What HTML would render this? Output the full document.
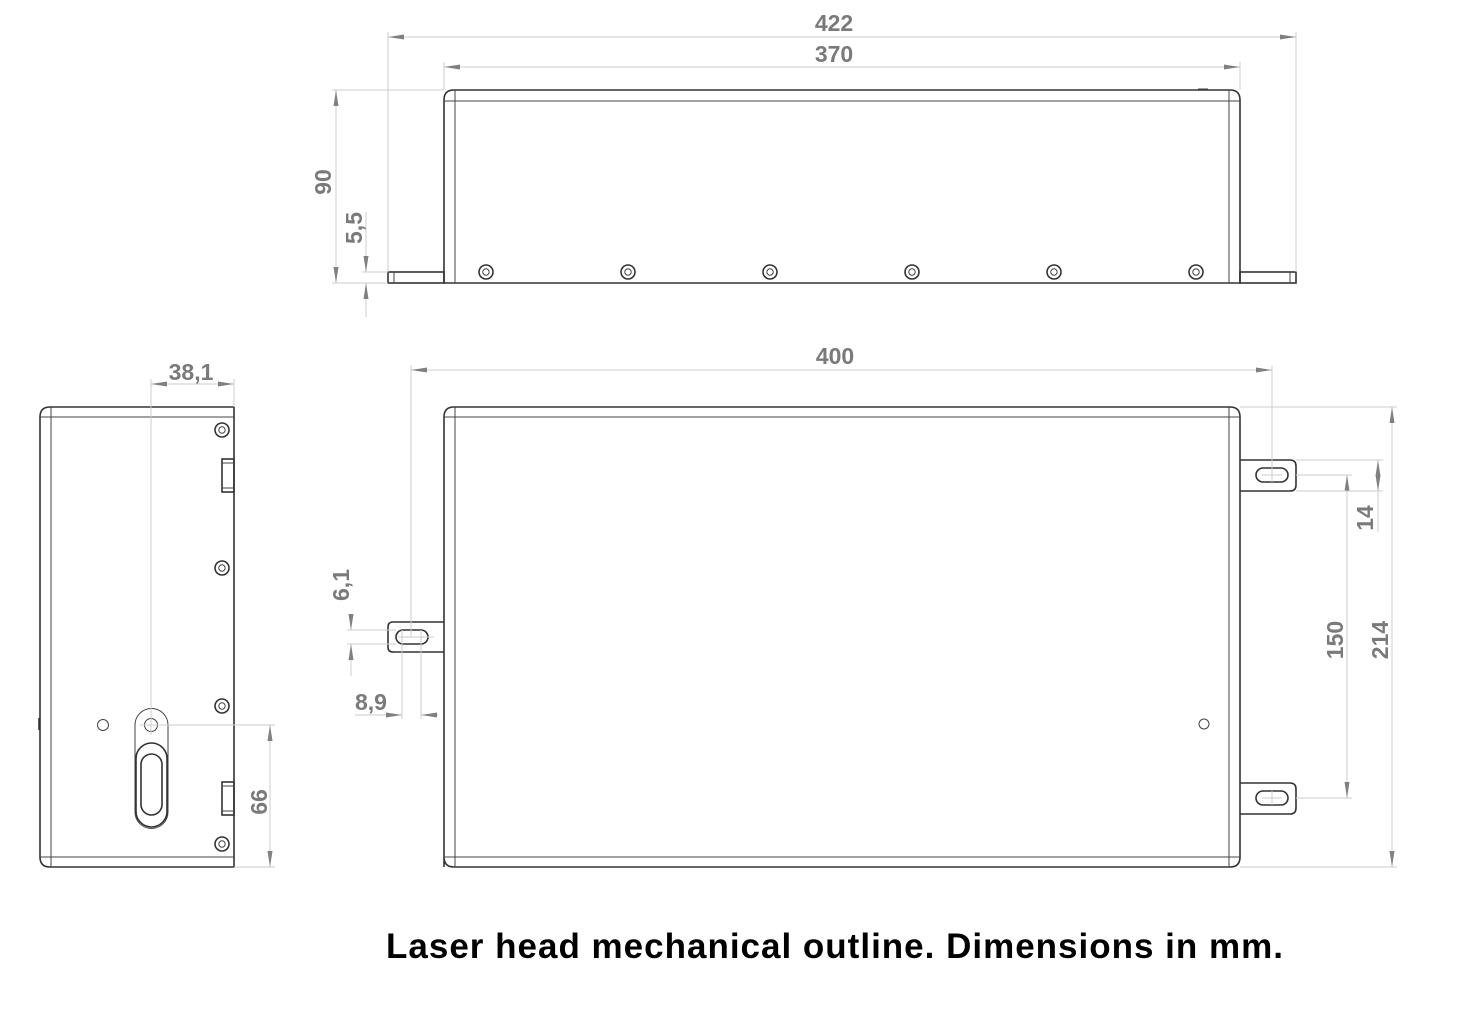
<!DOCTYPE html>
<html><head><meta charset="utf-8"><style>
body{margin:0;background:#fff;width:1460px;height:1015px;overflow:hidden}
svg{display:block}
.o{fill:none;stroke:#333;stroke-width:1.6}
.t{fill:none;stroke:#444;stroke-width:1}
.d{stroke:#ccc;stroke-width:1;fill:none}
.n{font-family:"Liberation Sans",sans-serif;font-weight:bold;font-size:23px;fill:#7a7a7a}
</style></head><body>
<svg width="1460" height="1015" viewBox="0 0 1460 1015">
<defs>
<g id="scr"><circle r="7" class="o" stroke-width="1.3"/><circle r="3.2" class="t"/></g>
<marker id="ae" markerWidth="16" markerHeight="8" refX="16" refY="4" orient="auto" markerUnits="userSpaceOnUse"><path d="M0,1.5 L16,4 L0,6.5Z" fill="#808080"/></marker>
<marker id="as" markerWidth="16" markerHeight="8" refX="0" refY="4" orient="auto" markerUnits="userSpaceOnUse"><path d="M16,1.5 L0,4 L16,6.5Z" fill="#808080"/></marker>
</defs>

<!-- TOP VIEW -->
<path class="o" d="M444,283 V100 Q444,90 454,90 H1230 Q1240,90 1240,100 V283 Z"/>
<line class="t" x1="455" y1="90" x2="455" y2="283"/>
<line class="t" x1="1229" y1="90" x2="1229" y2="283"/>
<line class="t" x1="444" y1="101" x2="1240" y2="101"/>
<rect class="o" x="388" y="272" width="56" height="11"/>
<line class="t" x1="394" y1="272" x2="394" y2="283"/>
<rect class="o" x="1240" y="272" width="56" height="11"/>
<line class="t" x1="1290" y1="272" x2="1290" y2="283"/>
<line class="t" x1="1198" y1="89" x2="1208" y2="89"/>
<use href="#scr" x="486" y="272"/><use href="#scr" x="628" y="272"/><use href="#scr" x="770" y="272"/>
<use href="#scr" x="912" y="272"/><use href="#scr" x="1054" y="272"/><use href="#scr" x="1196" y="272"/>
<line class="d" x1="388" y1="32" x2="388" y2="272"/><line class="d" x1="1296" y1="32" x2="1296" y2="272"/>
<line class="d" x1="388" y1="37" x2="1296" y2="37" marker-start="url(#as)" marker-end="url(#ae)"/>
<text class="n" x="834" y="31" text-anchor="middle">422</text>
<line class="d" x1="444" y1="62" x2="444" y2="90"/><line class="d" x1="1240" y1="62" x2="1240" y2="90"/>
<line class="d" x1="444" y1="67" x2="1240" y2="67" marker-start="url(#as)" marker-end="url(#ae)"/>
<text class="n" x="834" y="62" text-anchor="middle">370</text>
<line class="d" x1="332" y1="90" x2="444" y2="90"/><line class="d" x1="332" y1="283" x2="388" y2="283"/>
<line class="d" x1="336" y1="90" x2="336" y2="283" marker-start="url(#as)" marker-end="url(#ae)"/>
<text class="n" transform="translate(331,182) rotate(-90)" text-anchor="middle">90</text>
<line class="d" x1="362" y1="272" x2="388" y2="272"/>
<line class="d" x1="366" y1="212" x2="366" y2="272" marker-end="url(#ae)"/>
<line class="d" x1="366" y1="317" x2="366" y2="283" marker-end="url(#ae)"/>
<text class="n" transform="translate(362,228) rotate(-90)" text-anchor="middle">5,5</text>

<!-- SIDE VIEW -->
<path class="o" d="M234,407 H50 Q40,407 40,417 V857 Q40,867 50,867 H234 Z"/>
<line class="t" x1="51" y1="407" x2="51" y2="867"/>
<line class="t" x1="40" y1="417" x2="234" y2="417"/>
<line class="t" x1="40" y1="857" x2="234" y2="857"/>
<line class="o" x1="39" y1="718" x2="39" y2="730" stroke-width="2"/>
<use href="#scr" x="222" y="430"/><use href="#scr" x="222" y="568"/><use href="#scr" x="222" y="706"/><use href="#scr" x="222" y="844"/>
<rect class="o" x="222" y="459" width="12" height="33"/><line class="t" x1="222" y1="463" x2="234" y2="463"/><line class="t" x1="222" y1="488" x2="234" y2="488"/>
<rect class="o" x="222" y="782" width="12" height="33"/><line class="t" x1="222" y1="786" x2="234" y2="786"/><line class="t" x1="222" y1="811" x2="234" y2="811"/>
<circle cx="103" cy="725" r="5.5" class="t"/>
<path class="t" d="M135,725 A16.5,16.5 0 0 1 168,725 V812 A16.5,16.5 0 0 1 135,812 Z"/>
<rect x="136" y="743" width="31" height="84" rx="15.5" class="o" stroke-width="2.4"/>
<rect x="141" y="754" width="21" height="61" rx="10.5" class="o"/>
<circle cx="151" cy="725" r="6.5" class="t"/>
<line class="d" x1="151" y1="379" x2="151" y2="735"/><line class="d" x1="234" y1="379" x2="234" y2="407"/>
<line class="d" x1="151" y1="384" x2="234" y2="384" marker-start="url(#as)" marker-end="url(#ae)"/>
<text class="n" x="191" y="380" text-anchor="middle">38,1</text>
<line class="d" x1="140" y1="725" x2="275" y2="725"/><line class="d" x1="234" y1="867" x2="275" y2="867"/>
<line class="d" x1="270" y1="725" x2="270" y2="867" marker-start="url(#as)" marker-end="url(#ae)"/>
<text class="n" transform="translate(267,802) rotate(-90)" text-anchor="middle">66</text>

<!-- FRONT VIEW -->
<path class="o" d="M444,867 V417 Q444,407 454,407 H1230 Q1240,407 1240,417 V857 Q1240,867 1230,867 H454 Q444,867 444,857 Z"/>
<line class="t" x1="455" y1="407" x2="455" y2="867"/>
<line class="t" x1="1229" y1="407" x2="1229" y2="867"/>
<line class="t" x1="444" y1="417" x2="1240" y2="417"/>
<line class="t" x1="444" y1="857" x2="1240" y2="857"/>
<path class="o" d="M444,622 H393 Q388,622 388,627 V647 Q388,652 393,652 H444"/>
<rect x="396" y="630" width="32" height="14" rx="7" class="o"/>
<line class="d" x1="398" y1="637" x2="434" y2="637"/>
<path class="o" d="M1240,460 H1290 Q1296,460 1296,466 V485 Q1296,491 1290,491 H1240"/>
<rect x="1256" y="468" width="32" height="14" rx="7" class="o"/>
<path class="o" d="M1240,783 H1290 Q1296,783 1296,789 V808 Q1296,814 1290,814 H1240"/>
<rect x="1256" y="791" width="32" height="14" rx="7" class="o"/>
<line class="d" x1="1262" y1="475" x2="1282" y2="475"/><line class="d" x1="1272" y1="468" x2="1272" y2="482"/>
<line class="d" x1="1262" y1="798" x2="1282" y2="798"/><line class="d" x1="1272" y1="791" x2="1272" y2="805"/>
<circle cx="1204" cy="724" r="5" class="t"/>
<line class="d" x1="411" y1="365" x2="411" y2="637"/><line class="d" x1="1272" y1="365" x2="1272" y2="468"/>
<line class="d" x1="411" y1="370" x2="1272" y2="370" marker-start="url(#as)" marker-end="url(#ae)"/>
<text class="n" x="835" y="364" text-anchor="middle">400</text>
<line class="d" x1="1240" y1="407" x2="1397" y2="407"/><line class="d" x1="1240" y1="867" x2="1397" y2="867"/>
<line class="d" x1="1392" y1="407" x2="1392" y2="867" marker-start="url(#as)" marker-end="url(#ae)"/>
<text class="n" transform="translate(1388,640) rotate(-90)" text-anchor="middle">214</text>
<line class="d" x1="1296" y1="475" x2="1352" y2="475"/><line class="d" x1="1296" y1="798" x2="1352" y2="798"/>
<line class="d" x1="1347" y1="475" x2="1347" y2="798" marker-start="url(#as)" marker-end="url(#ae)"/>
<text class="n" transform="translate(1343,640) rotate(-90)" text-anchor="middle">150</text>
<line class="d" x1="1296" y1="460" x2="1383" y2="460"/><line class="d" x1="1296" y1="491" x2="1383" y2="491"/>
<line class="d" x1="1378" y1="460" x2="1378" y2="491" marker-start="url(#as)" marker-end="url(#ae)"/>
<line class="d" x1="1378" y1="491" x2="1378" y2="532"/>
<text class="n" transform="translate(1373,518) rotate(-90)" text-anchor="middle">14</text>
<line class="d" x1="347" y1="630" x2="396" y2="630"/><line class="d" x1="347" y1="644" x2="396" y2="644"/>
<line class="d" x1="351" y1="614" x2="351" y2="630" marker-end="url(#ae)"/>
<line class="d" x1="351" y1="676" x2="351" y2="644" marker-end="url(#ae)"/>
<text class="n" transform="translate(349,585) rotate(-90)" text-anchor="middle">6,1</text>
<line class="d" x1="402" y1="630" x2="402" y2="719"/><line class="d" x1="421" y1="630" x2="421" y2="719"/>
<line class="d" x1="355" y1="715" x2="402" y2="715" marker-end="url(#ae)"/>
<line class="d" x1="438" y1="715" x2="421" y2="715" marker-end="url(#ae)"/>
<text class="n" x="371" y="710" text-anchor="middle">8,9</text>

<text x="835" y="958" text-anchor="middle" font-family="Liberation Sans,sans-serif" font-weight="bold" font-size="35" letter-spacing="1" fill="#000">Laser head mechanical outline. Dimensions in mm.</text>
</svg>
</body></html>
